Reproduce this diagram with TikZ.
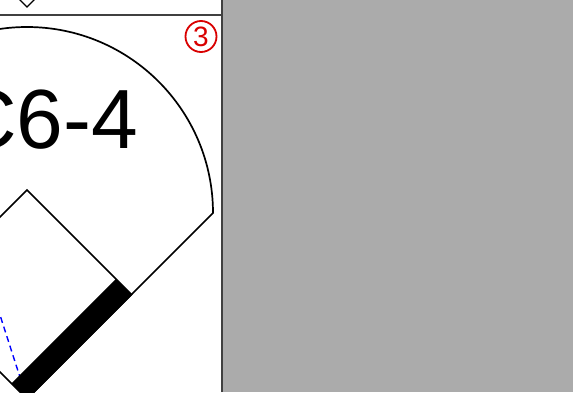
\documentclass[tikz,border=0pt]{standalone}
\usepackage{fontspec}
\setmainfont{Liberation Sans}
\usetikzlibrary{positioning}

\begin{document}
\begin{tikzpicture}[x=1pt, y=1pt,
  field/.style={draw=black, line width=1.7pt},
  frame/.style={draw=black!75, line width=1.6pt},
  play/.style={font=\fontsize{84}{84}\selectfont, inner sep=0pt, anchor=base east},
  outs/.style={circle, draw=red!85!black, line width=1.8pt, text=red!85!black, minimum size=31pt, inner sep=0pt, font=\fontsize{28}{28}\selectfont},
  hit/.style={draw=blue, dash pattern=on 6pt off 4pt, line width=1.4pt}
]
\useasboundingbox (0,0) rectangle (573,392);
\clip (0,0) rectangle (573,392);
\fill[white] (0,0) rectangle (222,392);
\fill[black!33] (222,0) rectangle (573,392);

% field corners
\coordinate (home) at (27,-7);
\coordinate (first) at (131.5,97.5);
\coordinate (second) at (27,202);
\coordinate (third) at (-77.5,97.5);
\coordinate (pole) at (213,179);

% outfield
\draw[field] (home) -- (pole) arc (0:180:186);
% infield
\draw[field] (home) -- (first) -- (second) -- (third) -- cycle;
% batted ball
\draw[hit] (home) -- (-10,108);
% thick base path
\fill[black] (home) -- (first) -- (115.9,113.1) -- (11.4,8.6) -- cycle;

% small diamond of the panel above
\draw[field, line width=1.3pt] (27,385) -- (36,394) -- (27,403) -- (18,394) -- cycle;

% panel frame
\draw[frame] (0,377) -- (222,377);
\draw[frame] (222,0) -- (222,392);

% labels
\node[play] (result) at (138.5,244) {C6-4};
\node[outs] (count) at (201,355.5) {3};
\end{tikzpicture}
\end{document}
